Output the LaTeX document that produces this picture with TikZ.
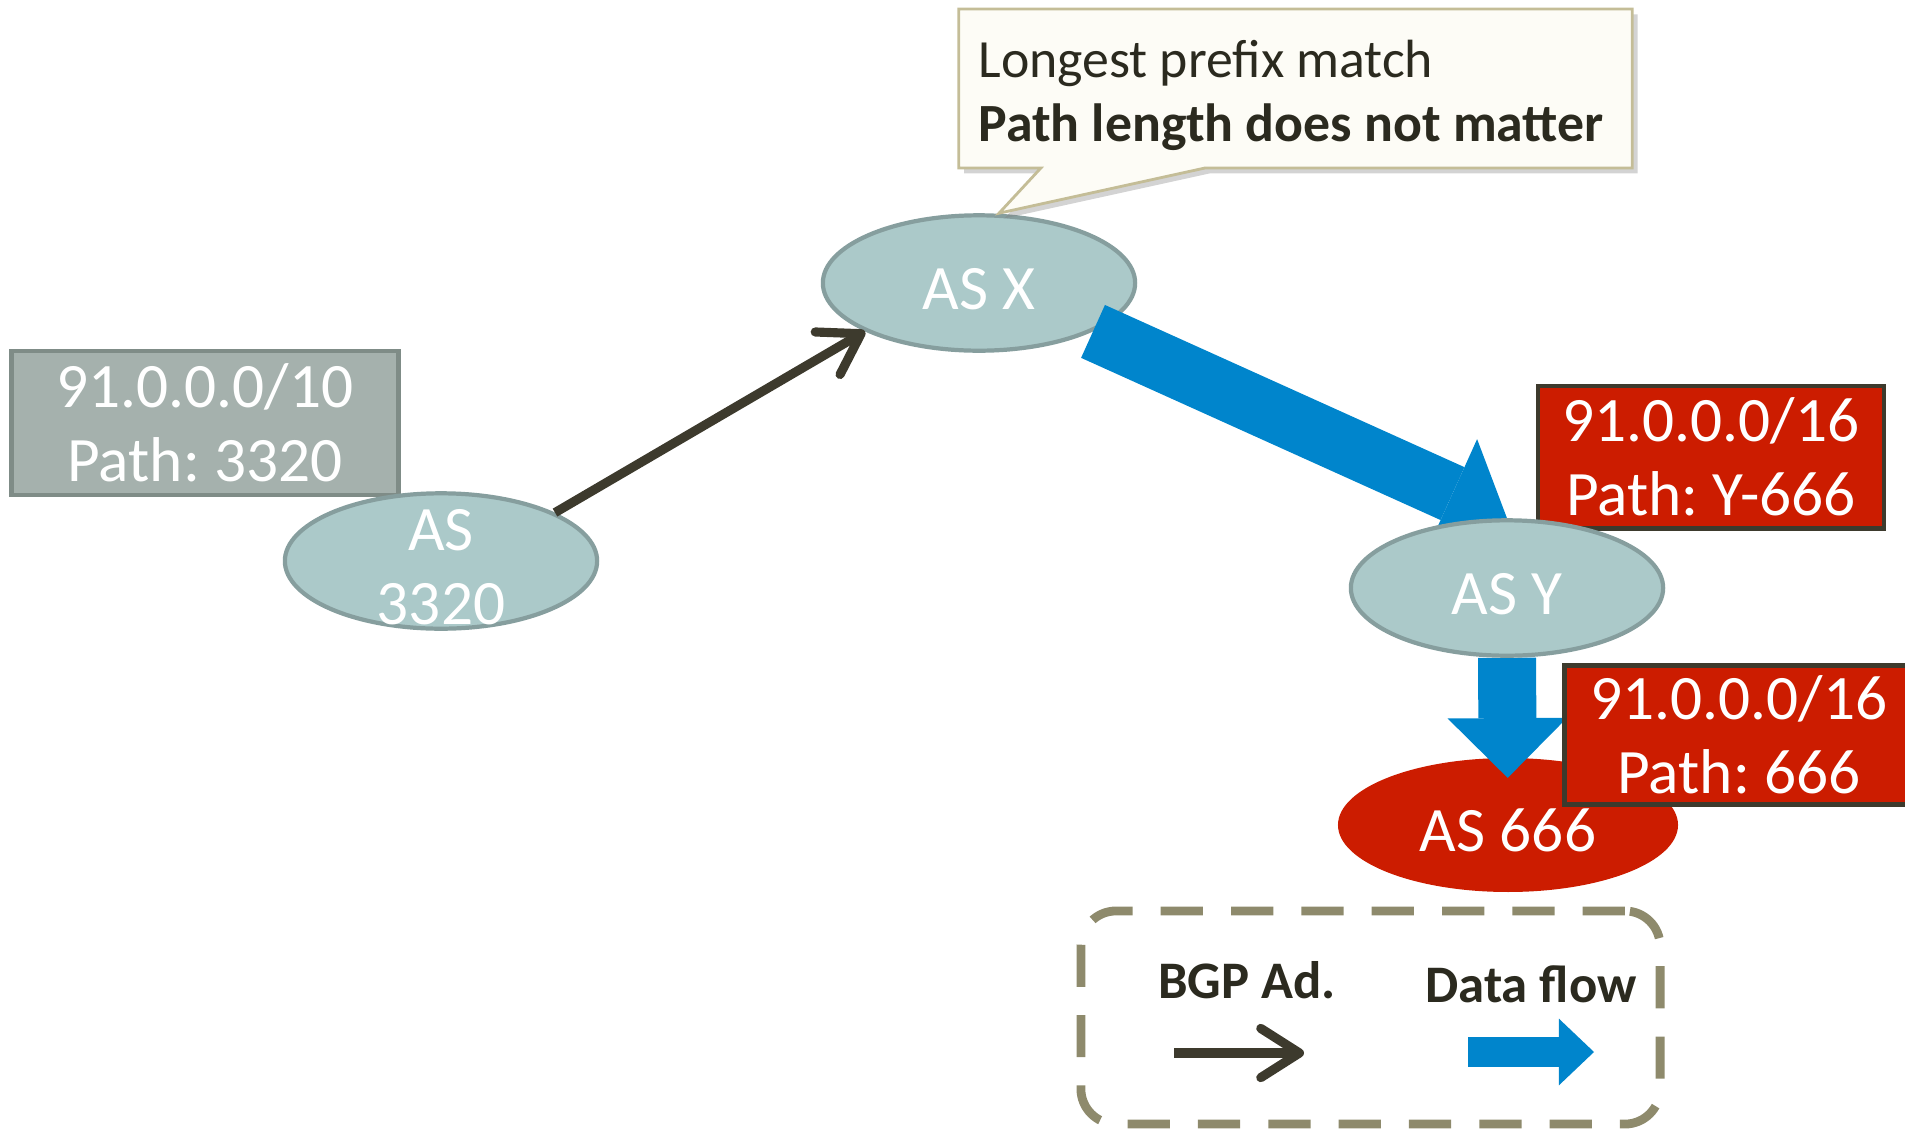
\documentclass[tikz,border=0pt]{standalone}
\usepackage{fontspec}
\setmainfont{Carlito}
\usepackage{tikz}
\usetikzlibrary{arrows.meta, shapes.geometric, shapes.callouts, shadows, calc, backgrounds}

\definecolor{asfill}{HTML}{ABC9C9}
\definecolor{asline}{HTML}{869E9E}
\definecolor{prefixgray}{HTML}{A5B1AD}
\definecolor{prefixgrayline}{HTML}{7F8C87}
\definecolor{hijackred}{HTML}{CC1C00}
\definecolor{darkline}{HTML}{3D3A2D}
\definecolor{flowblue}{HTML}{0085CC}
\definecolor{calloutfill}{HTML}{FDFCF6}
\definecolor{calloutline}{HTML}{C4BD97}
\definecolor{legendline}{HTML}{8E8A6C}
\definecolor{calltext}{HTML}{2B2A1F}

\frenchspacing

\begin{document}
\begin{tikzpicture}[x=0.01cm, y=-0.01cm,
    asnode/.style={ellipse, draw=asline, fill=asfill, line width=1.2pt, minimum width=88.8pt, minimum height=38.5pt, inner sep=0pt, text height=15pt, text depth=0pt, text=white, font=\fontsize{18}{21}\selectfont},
    astext/.style={text=white, align=center, font=\fontsize{18}{21}\selectfont},
    prefixbox/.style={rectangle, text=white, align=center, inner sep=0pt, font=\fontsize{18}{21}\selectfont, execute at begin node=\rule{0pt}{16.8pt}},
    bgp/.style={draw=darkline, line width=2.6pt, -{Straight Barb[round, length=11pt, width=14pt]}},
    flow/.style={draw=flowblue, line width=16.5pt, -{Triangle[length=17pt, width=34pt, line width=0pt]}}]
    \useasboundingbox (0,0) rectangle (1905,1130);

    % draw AS nodes on top
    \node[asnode] (asy) at (1507,588) {AS Y};
    \node[asnode] (as3320) at (441,561) {};
    \node[astext] (as3320txt) at (441,567) {AS\\3320};

    \begin{scope}[on background layer]
      % draw prefix boxes behind the ASes
      \node[prefixbox, fill=prefixgray, draw=prefixgrayline, line width=1.2pt, minimum width=110.1pt, minimum height=41pt] (ann3320) at (205,423) {91.0.0.0/10\\Path: 3320};
      \node[prefixbox, fill=hijackred, draw=darkline, line width=1.4pt, minimum width=98.4pt, minimum height=40.4pt] (anny) at (1711,457) {91.0.0.0/16\\Path: Y-666};
      \node[asnode] (asx) at (979,283) {AS X};

      % draw data flow
      \draw[flow] (asx.-23) -- (asy.north);
      \node[asnode, fill=hijackred, draw=none, minimum width=96.7pt, minimum height=38.1pt] (as666) at (1508,825) {AS 666};
      \draw[flow, shorten >=13.4pt] (asy.south) -- (as666.center);
    \end{scope}

    % draw hijacker's prefix box
    \node[prefixbox, fill=hijackred, draw=darkline, line width=1.4pt, minimum width=99pt, minimum height=39.5pt] (ann666) at (1739,735) {91.0.0.0/16\\Path: 666};

    % draw advertisement
    \draw[bgp] (as3320.23) -- (asx.203);

    % draw callout
    \node[rectangle callout, draw=calloutline, fill=calloutfill, line width=0.8pt,
      drop shadow={shadow xshift=1.5pt, shadow yshift=-1.5pt, opacity=0.35},
      minimum width=191.5pt, minimum height=45.2pt, text width=180.3pt, inner xsep=5.6pt, inner ysep=0pt,
      align=flush left, text=calltext, font=\fontsize{15.3}{18.3}\selectfont,
      callout absolute pointer={($(asx.north)+(20,0)$)}, callout pointer width=46.7pt]
      (note) at (1295.5,88.5) {\rule{0pt}{14.5pt}Longest prefix match\\\textbf{Path length does not matter}};

    % draw legend
    \node[draw=legendline, line width=2.5pt, dash pattern=on 12pt off 8pt, rounded corners=10pt, minimum width=164.7pt, minimum height=60.6pt, inner sep=0pt] (legend) at (1370.5,1017.5) {};
    \node[font=\fontsize{15}{18}\selectfont\bfseries, text=calltext] (bgplbl) at (1247,980) {BGP Ad.};
    \node[font=\fontsize{15}{18}\selectfont\bfseries, text=calltext] (flowlbl) at (1531,984) {Data flow};
    \coordinate (bgpa) at (1174,1053);
    \coordinate (bgpb) at (1304,1053);
    \draw[bgp] (bgpa) -- (bgpb);
    \coordinate (flowa) at (1468,1052);
    \coordinate (flowb) at (1594,1052);
    \draw[draw=flowblue, line width=8.8pt, -{Triangle[length=10pt, width=19pt, line width=0pt]}] (flowa) -- (flowb);

\end{tikzpicture}
\end{document}
